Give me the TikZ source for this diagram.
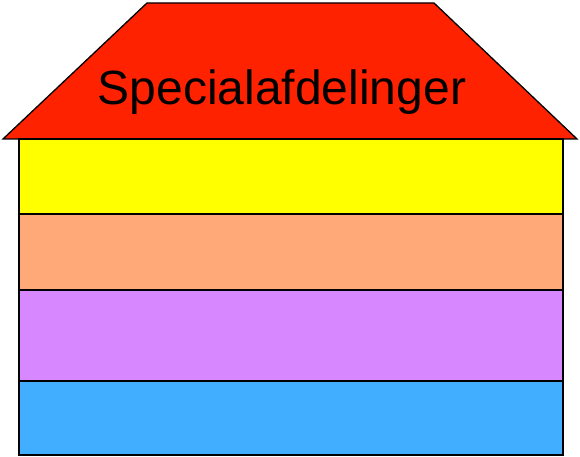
\documentclass[tikz,border=0pt]{standalone}
\usepackage{fontspec}
\setmainfont{Liberation Sans}
\usepackage{xcolor}
\usetikzlibrary{positioning}

\definecolor{roofred}{HTML}{FF2200}
\definecolor{bandyellow}{HTML}{FFFF00}
\definecolor{bandpeach}{HTML}{FFA878}
\definecolor{bandviolet}{HTML}{D787FF}
\definecolor{bandblue}{HTML}{42AEFF}

\begin{document}
\begin{tikzpicture}[
  x=1pt, y=-1pt,
  band/.style={draw, line width=1.3pt, minimum width=544pt, inner sep=0pt, outer sep=0pt},
  node distance=0pt
]
\useasboundingbox (0,0) rectangle (580,457);

% Taget
\coordinate (eaveL) at (3,139);
\coordinate (eaveR) at (577,139);
\coordinate (ridgeL) at (147,3);
\coordinate (ridgeR) at (434,3);
\filldraw[fill=roofred, line width=1.3pt, line join=miter]
  (eaveL) -- (ridgeL) -- (ridgeR) -- (eaveR) -- cycle;
\node[anchor=base, inner sep=0pt, font=\fontsize{48}{50}\selectfont] (title) at (282,105) {Specialafdelinger};

% Etager
\node[band, fill=bandyellow, minimum height=75pt, anchor=north west] (floor1) at (19,139) {};
\node[band, fill=bandpeach, minimum height=76pt, below=of floor1] (floor2) {};
\node[band, fill=bandviolet, minimum height=91pt, below=of floor2] (floor3) {};
\node[band, fill=bandblue, minimum height=74pt, below=of floor3] (floor4) {};

\end{tikzpicture}
\end{document}
